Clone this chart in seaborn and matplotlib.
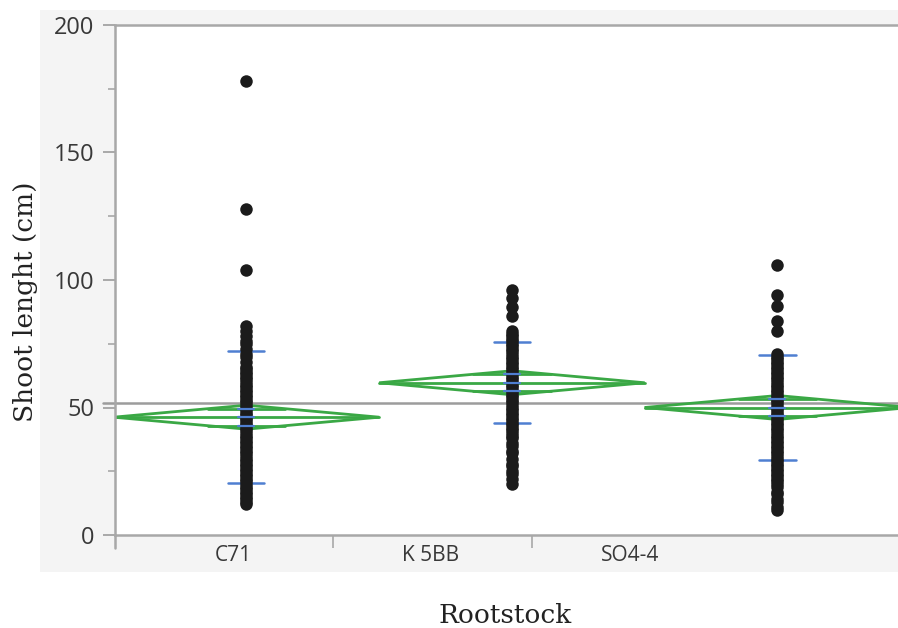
import numpy as np
import pandas as pd
import matplotlib
matplotlib.use("Agg")
import matplotlib.pyplot as plt
import seaborn as sns
from matplotlib.patches import Polygon, Rectangle

# ── DATA ──────────────────────────────────────────────────
groups = ["C71", "K 5BB", "SO4-4"]

c71 = [178, 128, 104, 82, 80, 78, 76, 75, 73, 71, 70, 68, 66, 65, 64, 63,
       62, 61, 60, 59, 58, 57, 56, 55, 54, 53, 52, 51, 50, 49, 48, 47, 46,
       45, 44, 43, 42, 41, 40, 39, 38, 37, 36, 35, 34, 33, 32, 31, 30, 29,
       28, 27, 26, 25, 24, 23, 22, 21, 20, 19, 18, 17, 16, 15, 14, 13, 12]
k5bb = [96, 93, 89.5, 86, 80, 79, 78, 77, 76, 75, 74, 73, 72, 71, 70, 69,
        68, 67, 66, 65, 64, 63, 62, 61, 60, 59, 58, 57, 56, 55, 54, 53, 52,
        51, 50, 49, 48, 47, 46, 45, 44, 43, 42, 41, 40, 39, 38, 36, 35, 33,
        32, 30, 28, 27, 25, 24, 22, 20]
so44 = [106, 94, 90, 84, 80, 71, 70, 69, 68, 67, 66, 65, 64, 63, 62, 61,
        60, 59, 58, 57, 56, 55, 54, 53, 52, 51, 50, 49, 48, 47, 46, 45, 44,
        43, 42, 41, 40, 39, 38, 37, 36, 35, 34, 33, 32, 31, 30, 29, 28, 27,
        26, 25, 24, 23, 22, 21, 20, 19, 17, 16, 14, 13, 11, 10]

group_means = [46.2, 59.7, 50.0]
ci_half = [4.7, 4.7, 4.7]
std_devs = [25.8, 15.8, 20.5]
std_errs = [3.3, 3.3, 3.3]
grand_mean = 51.9

y_major = [0, 50, 100, 150, 200]
y_minor = [25, 75, 125, 175]

df = pd.DataFrame({
    "Rootstock": [groups[0]] * len(c71) + [groups[1]] * len(k5bb) + [groups[2]] * len(so44),
    "Shoot": c71 + k5bb + so44,
})

# ── STYLE ─────────────────────────────────────────────────
sns.set_style("white")
plt.rcParams["font.family"] = ["Open Sans", "DejaVu Sans"]

GREEN = "#3aa845"
BLUE = "#4f7fd1"
AXIS_GRAY = "#a8a8a8"
TXT = "#383838"

fig = plt.figure(figsize=(8.98, 6.28), dpi=100)
fig.patch.set_facecolor("white")
# light gray frame behind the plot (JMP style)
fig.patches.append(Rectangle((40 / 898, 1 - 572 / 628), 1 - 40 / 898, 562 / 628,
                             transform=fig.transFigure, facecolor="#f4f4f4",
                             edgecolor="none", zorder=-5))

ax = fig.add_axes([115 / 898, 1 - 535 / 628, 783 / 898, 510 / 628])
ax.set_zorder(2)
ax.set_facecolor("white")

# points
sns.stripplot(data=df, x="Rootstock", y="Shoot", order=groups, jitter=False,
              color="#1b1b1b", size=9, linewidth=0, ax=ax, zorder=4)

# grand mean line
ax.axhline(grand_mean, xmin=-0.0155, xmax=1, color="#9c9c9c", lw=1.8,
           zorder=1, clip_on=False)

# mean diamonds + overlap marks
shrink = 0.5 * (1 - 1 / np.sqrt(2))
for i, (m, h) in enumerate(zip(group_means, ci_half)):
    ax.add_patch(Polygon([(i - 0.5, m), (i, m + h), (i + 0.5, m), (i, m - h)],
                         closed=True, fill=False, edgecolor=GREEN, lw=2.0, zorder=2))
    ax.plot([i - 0.5, i + 0.5], [m, m], color=GREEN, lw=2.0, zorder=2)
    for s in (1, -1):
        yy = m + s * h / np.sqrt(2)
        ax.plot([i - shrink, i + shrink], [yy, yy], color=GREEN, lw=2.0, zorder=2)

# std dev lines (under points) and mean error bars (over points)
for i, (m, sd, se) in enumerate(zip(group_means, std_devs, std_errs)):
    for yy in (m + sd, m - sd):
        ax.plot([i - 0.068, i + 0.068], [yy, yy], color=BLUE, lw=1.8, zorder=3)
    for yy in (m - se, m, m + se):
        ax.plot([i - 0.03, i + 0.03], [yy, yy], color=BLUE, lw=1.6, zorder=5)

# ── AXES ──────────────────────────────────────────────────
x_left, x_right = -0.495, 2.454
ax.set_xlim(x_left, x_right)
ax.set_ylim(0, 200)

ax.set_yticks(y_major)
ax.set_yticks(y_minor, minor=True)
ax.set_yticklabels([str(v) for v in y_major])
ax.tick_params(axis="y", which="major", length=8.6, width=1.4, color=AXIS_GRAY,
               labelsize=17, labelcolor=TXT, pad=6, left=True)
ax.tick_params(axis="y", which="minor", length=5, width=1.2, color=AXIS_GRAY, left=True)

ax.set_xticks([-0.05, 0.695, 1.445])
ax.set_xticklabels(groups)
ax.set_xticks([0.326, 1.075], minor=True)
ax.tick_params(axis="x", which="major", length=0, labelsize=15, labelcolor=TXT, pad=7)
ax.tick_params(axis="x", which="minor", length=9.5, width=1.2, color=AXIS_GRAY, bottom=True)

for side in ["left", "bottom", "top"]:
    ax.spines[side].set_color(AXIS_GRAY)
    ax.spines[side].set_linewidth(1.8)
ax.spines["right"].set_visible(False)
# left spine runs a little below zero
ax.plot([x_left, x_left], [0, -5], color=AXIS_GRAY, lw=1.8, clip_on=False, zorder=6)

ax.set_ylabel("Shoot lenght (cm)", family="DejaVu Serif", fontsize=19, color="#222222")
ax.set_xlabel("Rootstock", family="DejaVu Serif", fontsize=19, color="#222222")
ax.yaxis.set_label_coords(-0.098, 0.457)
ax.xaxis.set_label_coords(0.498, -0.133)

plt.savefig("out.png", dpi=100, facecolor=fig.get_facecolor())
